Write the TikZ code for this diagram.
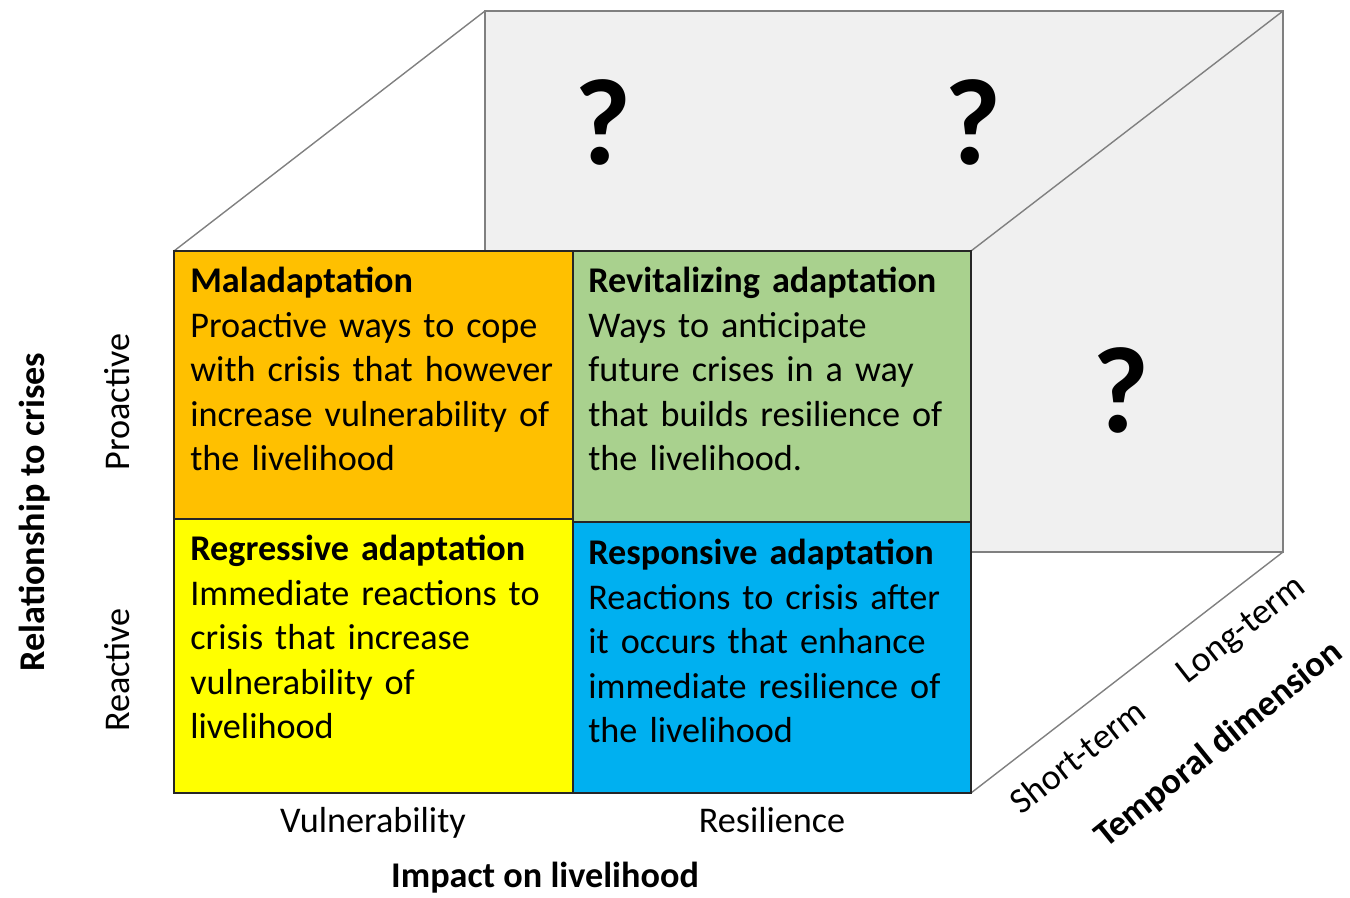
\documentclass[tikz,border=0pt]{standalone}
\usepackage{fontspec}
\setmainfont{Carlito}
\definecolor{cOrange}{HTML}{FFC000}
\definecolor{cGreen}{HTML}{A9D18E}
\definecolor{cYellow}{HTML}{FFFF00}
\definecolor{cBlue}{HTML}{00B0F0}
\definecolor{cBack}{HTML}{F0F0F0}
\definecolor{cEdge}{HTML}{808080}
\begin{document}
\begin{tikzpicture}[x=0.02cm,y=-0.02cm,
  edge/.style={draw=cEdge, line width=0.8pt},
  cell/.style={draw=black!85, line width=0.9pt},
  celltext/.style={anchor=base west, inner sep=0pt, text width=7.7cm, align=left,
    font=\fontsize{20.6}{25.3}\selectfont},
  lbl/.style={inner sep=0pt, font=\fontsize{20.6}{25}\selectfont},
  blbl/.style={inner sep=0pt, font=\fontsize{20.6}{25}\selectfont\bfseries},
  qmark/.style={inner sep=0pt, font=\fontsize{70}{80}\selectfont\bfseries}]
\useasboundingbox (0,0) rectangle (1350,898);
% corners
\coordinate (fTL) at (174,251);
\coordinate (fTR) at (971,251);
\coordinate (fBL) at (174,793);
\coordinate (fBR) at (971,793);
\coordinate (bTL) at (485,11);
\coordinate (bTR) at (1283,11);
\coordinate (bBR) at (1283,552);
\coordinate (bBL) at (485,552);
% back face
\path[fill=cBack] (bTL) rectangle (bBR);
\draw[edge] (bBL) -- (bTL) -- (bTR) -- (bBR) -- (bBL);
% depth edges
\draw[edge] (fTL) -- (bTL);
\draw[edge] (fTR) -- (bTR);
\draw[edge] (fBR) -- (bBR);
% front cells
\coordinate (mT) at (573,251);
\coordinate (mB) at (573,793);
\path[fill=cOrange] (fTL) rectangle (573,519);
\path[fill=cGreen] (mT) rectangle (971,522);
\path[fill=cYellow] (174,519) rectangle (mB);
\path[fill=cBlue] (573,522) rectangle (fBR);
\draw[cell] (fTL) rectangle (fBR);
\draw[cell] (mT) -- (mB);
\draw[cell] (174,519) -- (573,519);
\draw[cell] (573,522) -- (971,522);
% cell texts
\node[celltext] (mal) at (190,293) {\textbf{Maladaptation}\\Proactive ways to cope\\with crisis that however\\increase vulnerability of\\the livelihood};
\node[celltext] (rev) at (588,293) {\textbf{Revitalizing adaptation}\\Ways to anticipate\\future crises in a way\\that builds resilience of\\the livelihood.};
\node[celltext] (reg) at (190,561) {\textbf{Regressive adaptation}\\Immediate reactions to\\crisis that increase\\vulnerability of\\livelihood};
\node[celltext] (res) at (588,565) {\textbf{Responsive adaptation}\\Reactions to crisis after\\it occurs that enhance\\immediate resilience of\\the livelihood};
% question marks
\node[qmark] (q1) at (603,122) {?};
\node[qmark] (q2) at (973,122) {?};
\node[qmark] (q3) at (1121,390) {?};
% axis labels
\node[blbl, rotate=90] (rel) at (35,512) {Relationship to crises};
\node[lbl, rotate=90] (pro) at (117,402) {Proactive};
\node[lbl, rotate=90] (rea) at (117,670) {Reactive};
\node[lbl, anchor=base] (vul) at (373,832) {Vulnerability};
\node[lbl, anchor=base] (resil) at (772,832) {Resilience};
\node[blbl, anchor=base] (imp) at (545,887) {Impact on livelihood};
\node[lbl, rotate=38] (st) at (1077,756) {Short-term};
\node[lbl, rotate=38] (lt) at (1242,631) {Long-term};
\node[blbl, rotate=39] (td) at (1219,745) {Temporal dimension};
\end{tikzpicture}
\end{document}
